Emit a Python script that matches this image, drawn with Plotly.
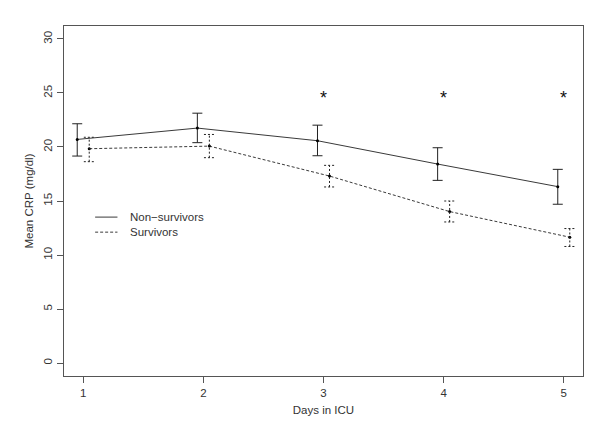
import plotly.graph_objects as go

# ---- data ----
days = [1, 2, 3, 4, 5]
series_names = ["Non\u2212survivors", "Survivors"]
non_mean = [20.70, 21.75, 20.58, 18.42, 16.33]
non_upper = [22.15, 23.13, 22.02, 19.93, 17.93]
non_lower = [19.16, 20.40, 19.19, 16.91, 14.70]
surv_mean = [19.84, 20.08, 17.31, 14.02, 11.65]
surv_upper = [20.90, 21.16, 18.30, 15.00, 12.45]
surv_lower = [18.64, 19.01, 16.30, 13.06, 10.79]
sig_days = [3, 4, 5]
sig_level = 25
y_ticks = [0, 5, 10, 15, 20, 25, 30]

# ---- style ----
dodge = 0.05
cap = 0.045
font = "Liberation Sans, Arial, Helvetica, sans-serif"
line_col = "#3a3a3a"
bar_col = "#222222"
dot_dash = "3px,2px"

x_non = [d - dodge for d in days]
x_surv = [d + dodge for d in days]

fig = go.Figure()

# Non-survivors line + error bars
fig.add_trace(go.Scatter(
    x=x_non, y=non_mean, mode="lines+markers", name=series_names[0],
    line=dict(color=line_col, width=1),
    marker=dict(color="black", size=3),
    error_y=dict(type="data", symmetric=False,
                 array=[u - m for u, m in zip(non_upper, non_mean)],
                 arrayminus=[m - l for m, l in zip(non_mean, non_lower)],
                 color=bar_col, thickness=1, width=5),
    showlegend=False,
))

# Survivors line
fig.add_trace(go.Scatter(
    x=x_surv, y=surv_mean, mode="lines+markers", name=series_names[1],
    line=dict(color=line_col, width=1, dash=dot_dash),
    marker=dict(color="black", size=3),
    showlegend=False,
))

# Survivors dotted error bars built from the data
ex, ey = [], []
for x, lo, hi in zip(x_surv, surv_lower, surv_upper):
    ex += [x, x, None, x - cap, x + cap, None, x - cap, x + cap, None]
    ey += [lo, hi, None, hi, hi, None, lo, lo, None]
fig.add_trace(go.Scatter(
    x=ex, y=ey, mode="lines", line=dict(color=bar_col, width=1, dash="2px,2px"),
    hoverinfo="skip", showlegend=False,
))

# significance asterisks
for d in sig_days:
    fig.add_annotation(x=d, y=sig_level, text="*", showarrow=False,
                       xanchor="center", yanchor="middle", yshift=-5,
                       font=dict(size=18, color="#111111", family=font))

# manual legend
legend_y = [0.454, 0.411]
dashes = ["solid", dot_dash]
for name, yy, dsh in zip(series_names, legend_y, dashes):
    fig.add_shape(type="line", xref="paper", yref="paper",
                  x0=0.06, x1=0.103, y0=yy, y1=yy,
                  line=dict(color=line_col, width=1, dash=dsh))
    fig.add_annotation(xref="paper", yref="paper", x=0.123, y=yy,
                       text=name, showarrow=False, xanchor="left",
                       yanchor="middle",
                       font=dict(size=11.5, color="#333333", family=font))

axis_common = dict(
    showgrid=False, zeroline=False, showline=True, linecolor="#555555",
    linewidth=1, mirror=True, ticks="outside", ticklen=6, tickwidth=1,
    tickcolor="#555555", tickfont=dict(size=11.5, color="#333333", family=font),
    automargin=False,
)

fig.update_xaxes(range=[0.84, 5.16], tickvals=days,
                 title=dict(text="Days in ICU", standoff=8,
                            font=dict(size=11.5, color="#333333", family=font)),
                 **axis_common)
fig.update_yaxes(range=[-1.2, 31.2], tickvals=y_ticks, tickangle=-90,
                 title=dict(text="Mean CRP (mg/dl)", standoff=6,
                            font=dict(size=11.5, color="#333333", family=font)),
                 **axis_common)

# the page body adds an 8px margin, so the figure is sized to fit the window
fig.update_layout(
    width=592, height=416,
    margin=dict(l=56, r=17, t=18, b=48),
    paper_bgcolor="white", plot_bgcolor="white",
    font=dict(family=font),
)

fig.write_html("out.html")
